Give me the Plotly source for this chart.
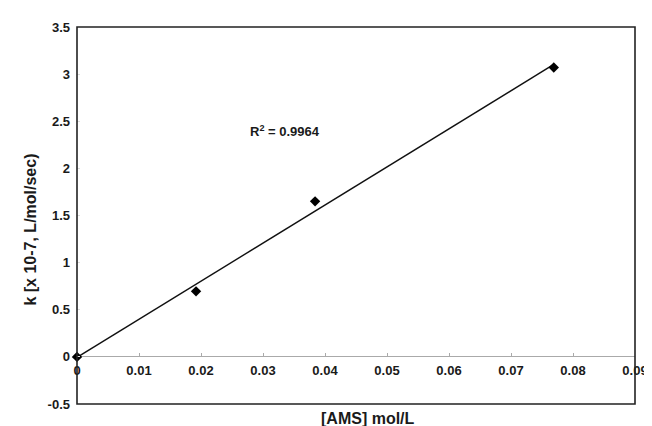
import numpy as np
import plotly.graph_objects as go

ams = [0.0, 0.0192, 0.0384, 0.0769]
k_vals = [0.0, 0.695, 1.65, 3.07]
x_ticks = [0, 0.01, 0.02, 0.03, 0.04, 0.05, 0.06, 0.07, 0.08, 0.09]
x_tick_labels = ["0", "0.01", "0.02", "0.03", "0.04", "0.05", "0.06", "0.07", "0.08", "0.09"]
y_ticks = [-0.5, 0, 0.5, 1, 1.5, 2, 2.5, 3, 3.5]
y_tick_labels = ["-0.5", "0", "0.5", "1", "1.5", "2", "2.5", "3", "3.5"]
r2_text = "R<sup>2</sup> = 0.9964"

slope, intercept = np.polyfit(ams, k_vals, 1)
fit_x = [min(ams), max(ams)]
fit_y = [slope * v + intercept for v in fit_x]

FONT = "Liberation Sans, Arial, sans-serif"
TXT = "#1a1a1a"

fig = go.Figure()
fig.add_trace(go.Scatter(x=fit_x, y=fit_y, mode="lines",
                         line=dict(color="#111111", width=1.4), showlegend=False))
fig.add_trace(go.Scatter(x=ams, y=k_vals, mode="markers", cliponaxis=False,
                         marker=dict(symbol="diamond", color="black", size=8),
                         showlegend=False))

fig.update_layout(
    width=652, height=426,
    margin=dict(l=69, r=12, t=16, b=30),
    paper_bgcolor="white", plot_bgcolor="white",
    font=dict(family=FONT, size=13, color=TXT),
    xaxis=dict(range=[0, 0.09], tickvals=x_ticks, ticktext=x_tick_labels,
               anchor="free", position=0.125, showgrid=False, zeroline=False,
               showline=False, ticks="inside", ticklen=4, tickcolor="#aaaaaa",
               ticklabelstandoff=4, ticklabeloverflow="allow",
               tickfont=dict(family=FONT, size=13, color=TXT, weight="bold")),
    yaxis=dict(range=[-0.5, 3.5], tickvals=y_ticks, ticktext=y_tick_labels,
               domain=[0, 1], showgrid=False, zeroline=True, zerolinecolor="#aaaaaa",
               zerolinewidth=1, showline=False, ticks="inside", ticklen=3,
               tickcolor="#dddddd", ticklabelstandoff=6, ticklabeloverflow="allow",
               tickfont=dict(family=FONT, size=13, color=TXT, weight="bold")),
    shapes=[dict(type="rect", xref="paper", yref="paper", x0=0, x1=1, y0=0, y1=1,
                 line=dict(color="#222222", width=1.6))],
    annotations=[
        dict(text=r2_text, x=0.0276, y=2.40, xref="x", yref="y", showarrow=False,
             xanchor="left", yanchor="middle",
             font=dict(family=FONT, size=13, color=TXT, weight="bold")),
        dict(text="[AMS] mol/L", x=0.522, y=-0.039, xref="paper", yref="paper",
             showarrow=False, xanchor="center", yanchor="middle",
             font=dict(family=FONT, size=16, color=TXT, weight="bold")),
        dict(text="k [x 10-7, L/mol/sec)", x=-0.084, y=0.463, xref="paper", yref="paper",
             showarrow=False, textangle=-90, xanchor="center", yanchor="middle",
             font=dict(family=FONT, size=16, color=TXT, weight="bold")),
    ],
)

fig.write_html("out.html")
